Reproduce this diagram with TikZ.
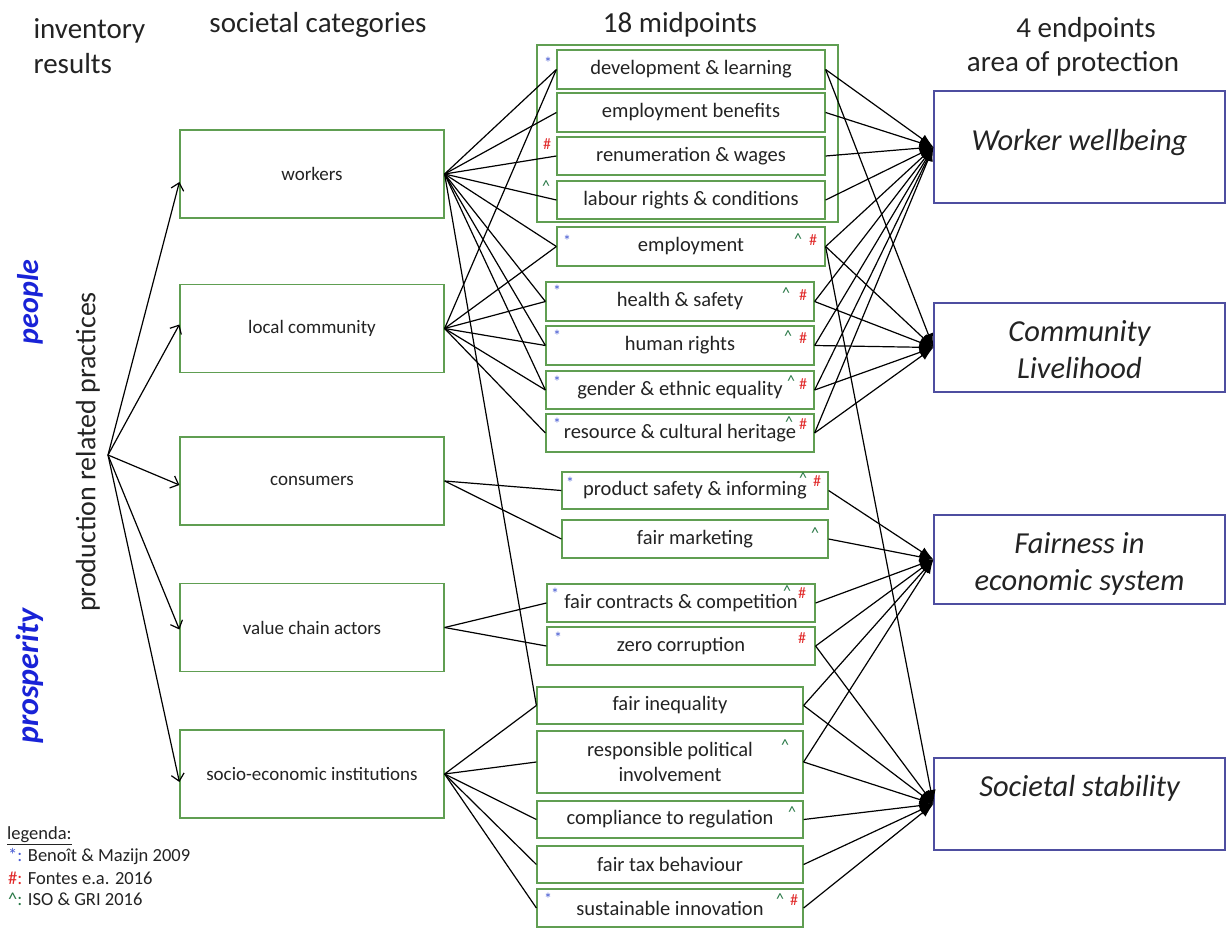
\documentclass[tikz,border=0pt]{standalone}
\usepackage{fontspec}
\setmainfont{Carlito}
\usetikzlibrary{arrows.meta}
\definecolor{boxgreen}{RGB}{96,158,82}
\definecolor{boxblue}{RGB}{78,78,160}
\definecolor{markblue}{RGB}{70,90,210}
\definecolor{markred}{RGB}{225,40,40}
\definecolor{markgreen}{RGB}{40,120,70}
\definecolor{inkgray}{RGB}{35,35,35}
\definecolor{headblue}{RGB}{25,35,215}
\tikzset{
  catbox/.style={draw=boxgreen, line width=1.2pt, fill=white, minimum width=264pt,
    minimum height=88pt, inner sep=0pt, text=inkgray, font=\fontsize{19}{23}\selectfont},
  midbox/.style={draw=boxgreen, line width=1.2pt, fill=white, inner sep=0pt,
    text=inkgray, font=\fontsize{20.5}{25}\selectfont, align=center},
  endbox/.style={draw=boxblue, line width=1.2pt, fill=white, minimum width=291pt, inner sep=0pt},
  endtext/.style={text=inkgray, font=\itshape\fontsize{30.5}{37}\selectfont, align=center},
  head/.style={text=inkgray, font=\fontsize{29}{35}\selectfont},
  link/.style={draw=black, line width=1.2pt},
  feed/.style={link, -{Straight Barb[length=7pt,width=13pt]}},
  impact/.style={link, -{Latex[length=14pt,width=10pt]}},
  mk/.style={inner sep=0pt, font=\fontsize{16}{16}\selectfont},
  mkstar/.style={mk, text=markblue},
  mkhash/.style={mk, text=markred},
  mkcaret/.style={mk, text=markgreen},
  pillar/.style={text=headblue, font=\bfseries\itshape\fontsize{30}{36}\selectfont, rotate=90},
  legtext/.style={text=inkgray, font=\fontsize{18.5}{22}\selectfont, inner sep=0pt},
}
\begin{document}
\begin{tikzpicture}[x=1pt,y=-1pt]
\useasboundingbox (0,0) rectangle (1227,927);
\fill[white] (0,0) rectangle (1227,927);

% column headings
\node[head, anchor=base west] (hinv) at (30,38) {inventory};
\node[head, anchor=base west] (hres) at (30,73) {results};
\node[head, anchor=base] (hcat) at (318,32) {societal categories};
\node[head, anchor=base] (hmid) at (680,32) {18 midpoints};
\node[head, anchor=base] (hend) at (1086,37) {4 endpoints};
\node[head, anchor=base] (harea) at (1073,71) {area of protection};

% side labels
\node[pillar] (ppl) at (30,302) {people};
\node[pillar, font=\bfseries\itshape\fontsize{32}{38}\selectfont] (pros) at (30,676) {prosperity};
\node[head, rotate=90, font=\fontsize{28}{34}\selectfont] (prp) at (88,452) {production related practices};
\coordinate (src) at (108,455);

% societal categories
\node[catbox] (cw) at (312,174) {workers};
\node[catbox] (cl) at (312,328.5) {local community};
\node[catbox] (cc) at (312,481) {consumers};
\node[catbox] (cv) at (312,627.5) {value chain actors};
\node[catbox] (cs) at (312,774) {socio-economic institutions};

% group frame around the four worker-specific midpoints
\draw[boxgreen, line width=1.2pt, fill=white] (537,45) rectangle (838,222);

% midpoints
\node[midbox, minimum width=268pt, minimum height=39pt] (m1) at (691,69.5) {development \& learning};
\node[midbox, minimum width=268pt, minimum height=39pt] (m2) at (691,112.5) {employment benefits};
\node[midbox, minimum width=268pt, minimum height=38pt] (m3) at (691,156) {renumeration \& wages};
\node[midbox, minimum width=268pt, minimum height=38pt] (m4) at (691,200) {labour rights \& conditions};
\node[midbox, minimum width=268pt, minimum height=39pt] (m5) at (691,246.5) {employment};
\node[midbox, minimum width=268pt, minimum height=39pt] (m6) at (680,301.5) {health \& safety};
\node[midbox, minimum width=268pt, minimum height=39pt] (m7) at (680,345.5) {human rights};
\node[midbox, minimum width=268pt, minimum height=38pt] (m8) at (680,390) {gender \& ethnic equality};
\node[midbox, minimum width=268pt, minimum height=38pt] (m9) at (680,433) {resource \& cultural heritage};
\node[midbox, minimum width=266pt, minimum height=37pt] (m10) at (695,490.5) {product safety \& informing};
\node[midbox, minimum width=266pt, minimum height=38pt] (m11) at (695,539) {fair marketing};
\node[midbox, minimum width=268pt, minimum height=38pt] (m12) at (681,603) {fair contracts \& competition};
\node[midbox, minimum width=268pt, minimum height=38pt] (m13) at (681,646) {zero corruption};
\node[midbox, minimum width=266pt, minimum height=37pt] (m14) at (670,705.5) {fair inequality};
\node[midbox, minimum width=266pt, minimum height=62pt] (m15) at (670,762) {responsible political\\involvement};
\node[midbox, minimum width=266pt, minimum height=37pt] (m16) at (670,819.5) {compliance to regulation};
\node[midbox, minimum width=266pt, minimum height=37pt] (m17) at (670,864.5) {fair tax behaviour};
\node[midbox, minimum width=266pt, minimum height=38pt] (m18) at (670,908) {sustainable innovation};

% endpoints
\node[endbox, minimum height=112pt] (e1) at (1079.5,147) {};
\node[endtext] (e1t) at (1079.5,143) {Worker wellbeing};
\node[endbox, minimum height=89pt] (e2) at (1079.5,347.5) {};
\node[endtext] (e2t) at (1079.5,350) {Community\\Livelihood};
\node[endbox, minimum height=89pt] (e3) at (1079.5,559.5) {};
\node[endtext] (e3t) at (1079.5,564) {Fairness in\\economic system};
\node[endbox, minimum height=92pt] (e4) at (1079.5,804) {};
\node[endtext] (e4t) at (1079.5,788) {Societal stability};

% practices feed the categories
\draw[feed] (src) -- ([yshift=-8pt]cw.west);
\draw[feed] (src) -- ([yshift=4pt]cl.west);
\draw[feed] (src) -- ([yshift=-4pt]cc.west);
\draw[feed] (src) -- ([yshift=-2pt]cv.west);
\draw[feed] (src) -- ([yshift=-8pt]cs.west);

% categories to midpoints
\foreach \m in {m1,m2,m3,m4,m5,m6,m7,m8,m14} \draw[link] (cw.east) -- (\m.west);
\foreach \m in {m1,m5,m6,m7,m8,m9} \draw[link] (cl.east) -- (\m.west);
\foreach \m in {m10,m11} \draw[link] (cc.east) -- (\m.west);
\foreach \m in {m12,m13} \draw[link] (cv.east) -- (\m.west);
\foreach \m in {m14,m15,m16,m17,m18} \draw[link] (cs.east) -- (\m.west);

% midpoints to endpoints
\foreach \m in {m1,m2,m3,m4,m5,m6,m7,m8,m9} \draw[impact] (\m.east) -- (e1.west);
\foreach \m in {m1,m5,m6,m7,m8,m9} \draw[impact] (\m.east) -- (e2.west);
\foreach \m in {m10,m11,m12,m13,m14,m15} \draw[impact] (\m.east) -- (e3.west);
\foreach \m in {m5,m13,m14,m15,m16,m17,m18} \draw[impact] (\m.east) -- (e4.west);

% source markers
\node[mkstar] (s1) at (548,63) {*};
\node[mkhash] (h3) at (547,144) {\#};
\node[mkcaret] (c4) at (546,186) {\^{}};
\node[mkstar] (s5) at (567,241) {*};
\node[mkcaret] (c5) at (798,239) {\^{}};
\node[mkhash] (h5) at (813,240) {\#};
\node[mkstar] (s6) at (557,291) {*};
\node[mkcaret] (c6) at (786,293) {\^{}};
\node[mkhash] (h6) at (803,295) {\#};
\node[mkstar] (s7) at (557,336) {*};
\node[mkcaret] (c7) at (788,336) {\^{}};
\node[mkhash] (h7) at (803,338) {\#};
\node[mkstar] (s8) at (557,382) {*};
\node[mkcaret] (c8) at (791,381) {\^{}};
\node[mkhash] (h8) at (803,384) {\#};
\node[mkstar] (s9) at (557,424) {*};
\node[mkcaret] (c9) at (789,422) {\^{}};
\node[mkhash] (h9) at (803,424) {\#};
\node[mkstar] (s10) at (570,483) {*};
\node[mkcaret] (c10) at (803,478) {\^{}};
\node[mkhash] (h10) at (817,481) {\#};
\node[mkcaret] (c11) at (815,533) {\^{}};
\node[mkstar] (s12) at (555,594) {*};
\node[mkcaret] (c12) at (787,591) {\^{}};
\node[mkhash] (h12) at (802,593) {\#};
\node[mkstar] (s13) at (558,638) {*};
\node[mkhash] (h13) at (802,638) {\#};
\node[mkcaret] (c15) at (785,745) {\^{}};
\node[mkcaret] (c16) at (792,812) {\^{}};
\node[mkstar] (s18) at (548,899) {*};
\node[mkcaret] (c18) at (780,899) {\^{}};
\node[mkhash] (h18) at (794,900) {\#};

% legend
\node[legtext, anchor=west] (lg0) at (7,836) {\underline{legenda:}};
\node[legtext, anchor=west] (lg1) at (8,857) {\textcolor{markblue}{*:} Benoît \& Mazijn 2009};
\node[legtext, anchor=west] (lg2) at (8,878) {\textcolor{markred}{\#:} Fontes e.a. 2016};
\node[legtext, anchor=west] (lg3) at (8,899) {\textcolor{markgreen}{\^{}:} ISO \& GRI 2016};
\end{tikzpicture}
\end{document}
